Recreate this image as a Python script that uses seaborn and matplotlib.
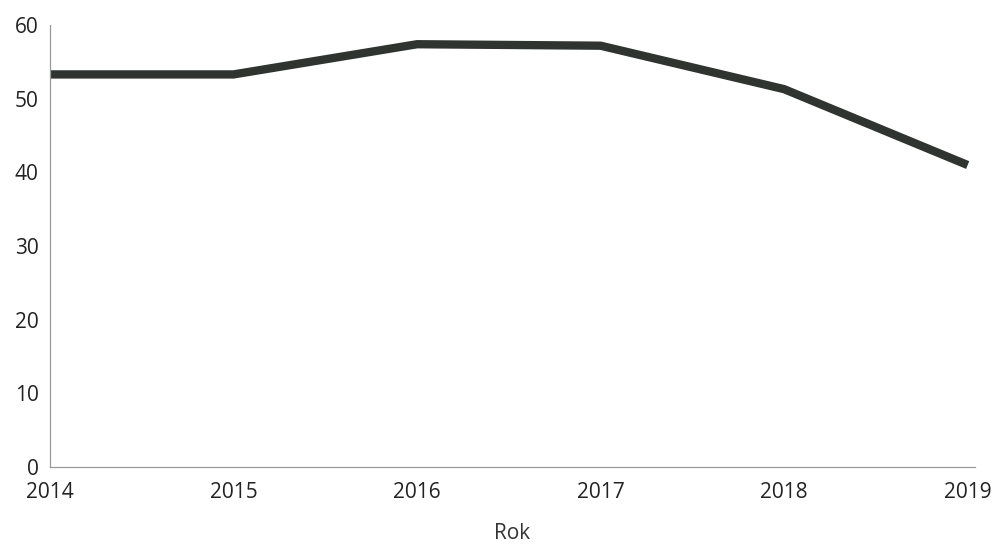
import pandas as pd
import matplotlib.pyplot as plt
import seaborn as sns

years = ['2014', '2015', '2016', '2017', '2018', '2019']
values = [53.3, 53.3, 57.4, 57.2, 51.3, 41.0]
y_ticks = [0, 10, 20, 30, 40, 50, 60]

sns.set_style('white')
plt.rcParams['font.family'] = ['Open Sans', 'DejaVu Sans']

df = pd.DataFrame({'Rok': range(len(years)), 'Wartosc': values})

fig = plt.figure(figsize=(9.99, 5.45), dpi=100)
ax = fig.add_axes([0.05, 0.143, 0.926, 0.811])
sns.lineplot(data=df, x='Rok', y='Wartosc', color='#2f3431', linewidth=6,
             solid_capstyle='butt', ax=ax)

ax.set_xlim(0, 5.04)
ax.set_ylim(0, 60)
ax.set_xticks(range(len(years)), labels=years)
ax.set_yticks(y_ticks)
ax.tick_params(axis='both', length=0, labelsize=15, colors='#222222')
ax.tick_params(axis='x', pad=11)
ax.tick_params(axis='y', pad=8)
ax.set_xlabel('Rok', fontsize=15, color='#333333', labelpad=14)
ax.set_ylabel('')

sns.despine(ax=ax)
for side in ['left', 'bottom']:
    ax.spines[side].set_color('#999999')
    ax.spines[side].set_linewidth(0.9)

fig.savefig('out.png', dpi=100)
